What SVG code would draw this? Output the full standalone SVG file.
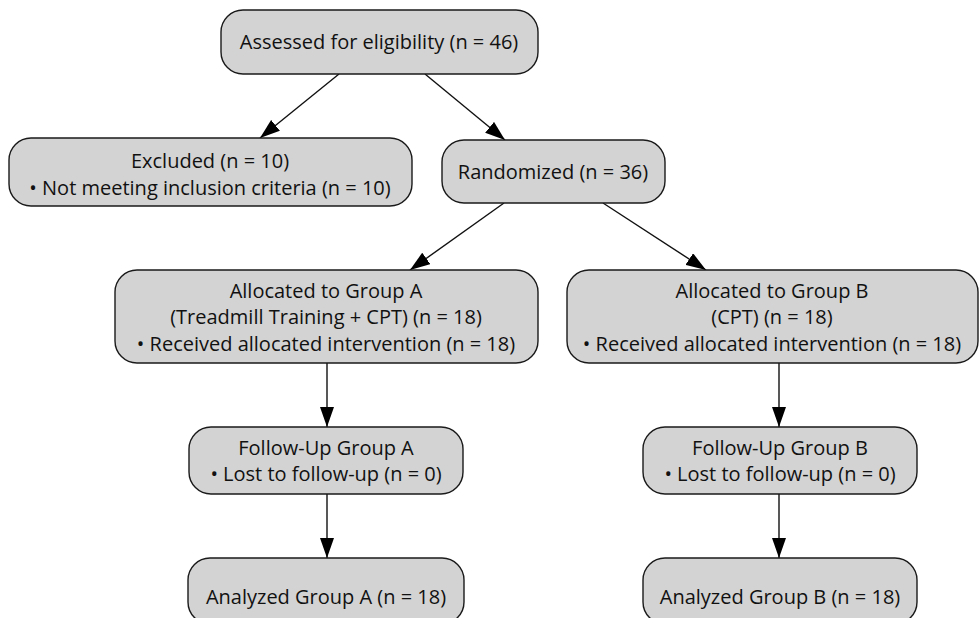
<svg xmlns="http://www.w3.org/2000/svg" width="980" height="618" viewBox="0 0 980 618">
<style>
.box{fill:#d3d3d3;stroke:#1a1a1a;stroke-width:1.4}
.t{font-family:"Open Sans","Liberation Sans",sans-serif;font-size:20px;fill:#111;text-anchor:middle}
.e{fill:none;stroke:#111;stroke-width:1.4}
</style>
<defs>
<marker id="ah" markerWidth="20" markerHeight="14" refX="20" refY="7" orient="auto" markerUnits="userSpaceOnUse">
<path d="M0,0 L20,7 L0,14 Z" fill="#000"/>
</marker>
</defs>
<rect width="980" height="618" fill="#fff"/>
<g id="connectors">
<line class="e" x1="339" y1="74" x2="260" y2="138" marker-end="url(#ah)"/>
<line class="e" x1="425" y1="74" x2="505" y2="140" marker-end="url(#ah)"/>
<line class="e" x1="504" y1="203" x2="410" y2="270" marker-end="url(#ah)"/>
<line class="e" x1="603" y1="203" x2="706" y2="270" marker-end="url(#ah)"/>
<line class="e" x1="327" y1="363" x2="327" y2="427" marker-end="url(#ah)"/>
<line class="e" x1="327" y1="494" x2="327" y2="558" marker-end="url(#ah)"/>
<line class="e" x1="779" y1="363" x2="779" y2="427" marker-end="url(#ah)"/>
<line class="e" x1="779" y1="494" x2="779" y2="558" marker-end="url(#ah)"/>
</g>
<g id="assessed">
<rect class="box" x="221" y="10" width="317" height="64" rx="22"/>
<text class="t" x="379" y="49">Assessed for eligibility (n = 46)</text>
</g>
<g id="excluded">
<rect class="box" x="9" y="138" width="403" height="68" rx="22"/>
<text class="t" x="210" y="168">Excluded (n = 10)</text>
<text class="t" x="210" y="195">• Not meeting inclusion criteria (n = 10)</text>
</g>
<g id="randomized">
<rect class="box" x="442" y="140" width="223" height="63" rx="22"/>
<text class="t" x="553" y="179">Randomized (n = 36)</text>
</g>
<g id="groupA">
<rect class="box" x="115" y="270" width="423" height="93" rx="22"/>
<text class="t" x="326" y="298">Allocated to Group A</text>
<text class="t" x="326" y="324">(Treadmill Training + CPT) (n = 18)</text>
<text class="t" x="326" y="351">• Received allocated intervention (n = 18)</text>
</g>
<g id="groupB">
<rect class="box" x="567" y="270" width="411" height="93" rx="22"/>
<text class="t" x="772" y="298">Allocated to Group B</text>
<text class="t" x="772" y="324">(CPT) (n = 18)</text>
<text class="t" x="772" y="351">• Received allocated intervention (n = 18)</text>
</g>
<g id="followA">
<rect class="box" x="189" y="427" width="274" height="67" rx="22"/>
<text class="t" x="326" y="455">Follow-Up Group A</text>
<text class="t" x="326" y="481">• Lost to follow-up (n = 0)</text>
</g>
<g id="followB">
<rect class="box" x="643" y="427" width="274" height="67" rx="22"/>
<text class="t" x="780" y="455">Follow-Up Group B</text>
<text class="t" x="780" y="481">• Lost to follow-up (n = 0)</text>
</g>
<g id="analyzedA">
<rect class="box" x="188" y="558" width="276" height="66" rx="22"/>
<text class="t" x="326" y="604">Analyzed Group A (n = 18)</text>
</g>
<g id="analyzedB">
<rect class="box" x="643" y="558" width="274" height="66" rx="22"/>
<text class="t" x="780" y="604">Analyzed Group B (n = 18)</text>
</g>
</svg>
